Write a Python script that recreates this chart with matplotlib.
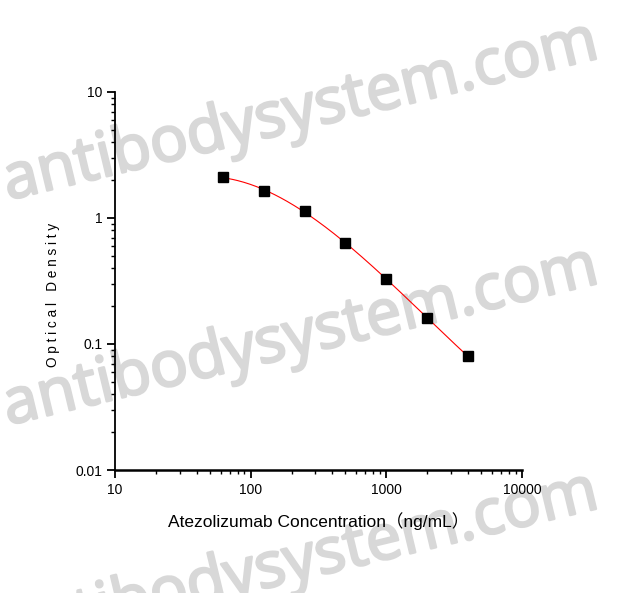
import matplotlib
matplotlib.use("Agg")
import matplotlib.pyplot as plt
import matplotlib.patheffects as pe
import numpy as np
from matplotlib.ticker import LogLocator, NullFormatter, FixedLocator

# standard curve values
conc = [62.5, 125, 250, 500, 1000, 2000, 4000]
od = [2.10, 1.65, 1.13, 0.63, 0.33, 0.16, 0.080]

x_ticks = [10, 100, 1000, 10000]
x_tick_labels = ["10", "100", "1000", "10000"]
y_ticks = [0.01, 0.1, 1, 10]
y_tick_labels = ["0.01", "0.1", "1", "10"]

W, H = 617, 593
fig = plt.figure(figsize=(W / 100, H / 100), dpi=100)
renderer = fig.canvas.get_renderer()

fam = ["Liberation Sans", "Noto Sans CJK SC"]
wm_color = "#d8d8d8"

# watermark behind the plot, sized so each line is ~612 px long
for y0 in [200, 425, 650]:
    t = fig.text(8 / W, 1 - y0 / H, "antibodysystem.com", fontsize=44,
                 family="Open Sans", color=wm_color,
                 rotation_mode="anchor", ha="left", va="baseline", zorder=0)
    w = t.get_window_extent(renderer).width
    t.set_fontsize(44 * 610 / w)
    t.set_rotation(13.5)
    t.set_path_effects([pe.withStroke(linewidth=1.8, foreground=wm_color)])

ax = fig.add_axes([115 / W, 1 - 470 / H, (522 - 115) / W, (470 - 92) / H])
ax.set_zorder(1)
ax.patch.set_alpha(0)

ax.set_xscale("log")
ax.set_yscale("log")
ax.set_xlim(10, 10000)
ax.set_ylim(0.01, 10)

# smooth fit through the points (log-log cubic)
lx = np.log10(conc)
ly = np.log10(od)
coef = np.polyfit(lx, ly, 3)
xs = np.linspace(lx[0], lx[-1], 200)
ax.plot(10 ** xs, 10 ** np.polyval(coef, xs), color="red", lw=0.8, zorder=2)
ax.plot(conc, od, "s", color="black", markersize=6.5, zorder=3)

for s in ["top", "right"]:
    ax.spines[s].set_visible(False)
ax.spines["left"].set_linewidth(1.3)
ax.spines["bottom"].set_linewidth(1.8)

ax.xaxis.set_major_locator(FixedLocator(x_ticks))
ax.yaxis.set_major_locator(FixedLocator(y_ticks))
ax.set_xticklabels(x_tick_labels)
ax.set_yticklabels(y_tick_labels)
ax.xaxis.set_minor_locator(LogLocator(base=10, subs=np.arange(2, 10)))
ax.yaxis.set_minor_locator(LogLocator(base=10, subs=np.arange(2, 10)))
ax.xaxis.set_minor_formatter(NullFormatter())
ax.yaxis.set_minor_formatter(NullFormatter())
ax.tick_params(which="major", direction="out", length=5.5, width=1.3,
               labelsize=10, pad=3.5)
ax.tick_params(which="minor", direction="out", length=3, width=1.0)
for lab in ax.get_xticklabels() + ax.get_yticklabels():
    lab.set_family(fam)

ax.set_xlabel("Atezolizumab Concentration（ng/mL）", fontsize=12.5,
              family=fam, labelpad=11)
ax.set_ylabel("O p t i c a l   D e n s i t y", fontsize=9.8,
              family="Liberation Sans")
ax.yaxis.set_label_coords(-0.135, 0.463)

fig.savefig("out.png", dpi=100)
